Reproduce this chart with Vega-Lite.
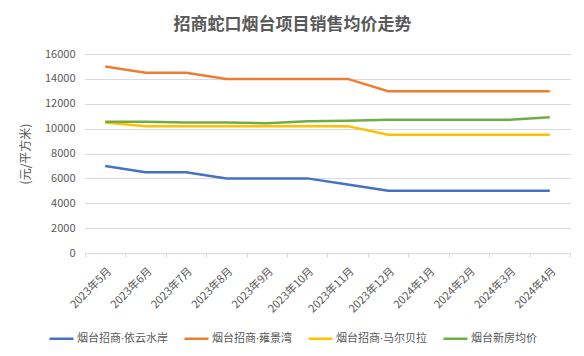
{
  "$schema": "https://vega.github.io/schema/vega-lite/v6.json",
  "width": 485,
  "height": 199,
  "autosize": {"type": "none"},
  "padding": {"left": 85, "top": 54, "right": 14, "bottom": 103},
  "background": "white",
  "config": {"font": "Noto Sans CJK SC", "view": {"stroke": null}},
  "title": {"text": "招商蛇口烟台项目销售均价走势", "fontSize": 17, "font": "Noto Sans CJK SC", "fontWeight": "bold", "color": "#595959", "anchor": "middle", "dx": -35, "offset": 14},
  "data": {"values": [
    {"month": "2023年5月", "series": "烟台招商·依云水岸", "value": 7000},
    {"month": "2023年6月", "series": "烟台招商·依云水岸", "value": 6500},
    {"month": "2023年7月", "series": "烟台招商·依云水岸", "value": 6500},
    {"month": "2023年8月", "series": "烟台招商·依云水岸", "value": 6000},
    {"month": "2023年9月", "series": "烟台招商·依云水岸", "value": 6000},
    {"month": "2023年10月", "series": "烟台招商·依云水岸", "value": 6000},
    {"month": "2023年11月", "series": "烟台招商·依云水岸", "value": 5500},
    {"month": "2023年12月", "series": "烟台招商·依云水岸", "value": 5000},
    {"month": "2024年1月", "series": "烟台招商·依云水岸", "value": 5000},
    {"month": "2024年2月", "series": "烟台招商·依云水岸", "value": 5000},
    {"month": "2024年3月", "series": "烟台招商·依云水岸", "value": 5000},
    {"month": "2024年4月", "series": "烟台招商·依云水岸", "value": 5000},
    {"month": "2023年5月", "series": "烟台招商·雍景湾", "value": 15000},
    {"month": "2023年6月", "series": "烟台招商·雍景湾", "value": 14500},
    {"month": "2023年7月", "series": "烟台招商·雍景湾", "value": 14500},
    {"month": "2023年8月", "series": "烟台招商·雍景湾", "value": 14000},
    {"month": "2023年9月", "series": "烟台招商·雍景湾", "value": 14000},
    {"month": "2023年10月", "series": "烟台招商·雍景湾", "value": 14000},
    {"month": "2023年11月", "series": "烟台招商·雍景湾", "value": 14000},
    {"month": "2023年12月", "series": "烟台招商·雍景湾", "value": 13000},
    {"month": "2024年1月", "series": "烟台招商·雍景湾", "value": 13000},
    {"month": "2024年2月", "series": "烟台招商·雍景湾", "value": 13000},
    {"month": "2024年3月", "series": "烟台招商·雍景湾", "value": 13000},
    {"month": "2024年4月", "series": "烟台招商·雍景湾", "value": 13000},
    {"month": "2023年5月", "series": "烟台招商·马尔贝拉", "value": 10500},
    {"month": "2023年6月", "series": "烟台招商·马尔贝拉", "value": 10200},
    {"month": "2023年7月", "series": "烟台招商·马尔贝拉", "value": 10200},
    {"month": "2023年8月", "series": "烟台招商·马尔贝拉", "value": 10200},
    {"month": "2023年9月", "series": "烟台招商·马尔贝拉", "value": 10200},
    {"month": "2023年10月", "series": "烟台招商·马尔贝拉", "value": 10200},
    {"month": "2023年11月", "series": "烟台招商·马尔贝拉", "value": 10200},
    {"month": "2023年12月", "series": "烟台招商·马尔贝拉", "value": 9500},
    {"month": "2024年1月", "series": "烟台招商·马尔贝拉", "value": 9500},
    {"month": "2024年2月", "series": "烟台招商·马尔贝拉", "value": 9500},
    {"month": "2024年3月", "series": "烟台招商·马尔贝拉", "value": 9500},
    {"month": "2024年4月", "series": "烟台招商·马尔贝拉", "value": 9500},
    {"month": "2023年5月", "series": "烟台新房均价", "value": 10550},
    {"month": "2023年6月", "series": "烟台新房均价", "value": 10550},
    {"month": "2023年7月", "series": "烟台新房均价", "value": 10500},
    {"month": "2023年8月", "series": "烟台新房均价", "value": 10500},
    {"month": "2023年9月", "series": "烟台新房均价", "value": 10430},
    {"month": "2023年10月", "series": "烟台新房均价", "value": 10600},
    {"month": "2023年11月", "series": "烟台新房均价", "value": 10640},
    {"month": "2023年12月", "series": "烟台新房均价", "value": 10720},
    {"month": "2024年1月", "series": "烟台新房均价", "value": 10720},
    {"month": "2024年2月", "series": "烟台新房均价", "value": 10720},
    {"month": "2024年3月", "series": "烟台新房均价", "value": 10720},
    {"month": "2024年4月", "series": "烟台新房均价", "value": 10910}
  ]},
  "mark": {"type": "line", "strokeWidth": 2.5},
  "encoding": {
    "x": {
      "field": "month", "type": "ordinal", "sort": null, "bandPosition": 0.5,
      "scale": {"type": "band", "paddingInner": 0, "paddingOuter": 0},
      "axis": {"title": null, "labelAngle": -45, "tickBand": "extent", "grid": false, "domainColor": "#D9D9D9", "tickColor": "#D9D9D9", "tickSize": 4, "labelColor": "#595959", "labelFontSize": 11, "labelPadding": 8}
    },
    "y": {
      "field": "value", "type": "quantitative",
      "scale": {"domain": [0, 16000]},
      "axis": {"title": "(元/平方米)", "values": [0, 2000, 4000, 6000, 8000, 10000, 12000, 14000, 16000], "format": "d", "domain": false, "ticks": false, "gridColor": "#D9D9D9", "labelColor": "#595959", "labelFontSize": 11, "labelPadding": 10, "titleFontWeight": "normal", "titleColor": "#595959", "titleFontSize": 12, "titlePadding": 12}
    },
    "color": {
      "field": "series", "type": "nominal",
      "scale": {"domain": ["烟台招商·依云水岸", "烟台招商·雍景湾", "烟台招商·马尔贝拉", "烟台新房均价"], "range": ["#4472C4", "#ED7D31", "#FFC000", "#70AD47"]},
      "legend": {"title": null, "orient": "none", "legendX": -37, "legendY": 271, "direction": "horizontal", "symbolType": "stroke", "symbolStrokeWidth": 2.5, "symbolSize": 576, "labelFont": "Noto Sans, Noto Sans CJK SC", "labelFontSize": 11, "labelColor": "#595959", "labelOffset": 2, "columnPadding": 11}
    }
  }
}
